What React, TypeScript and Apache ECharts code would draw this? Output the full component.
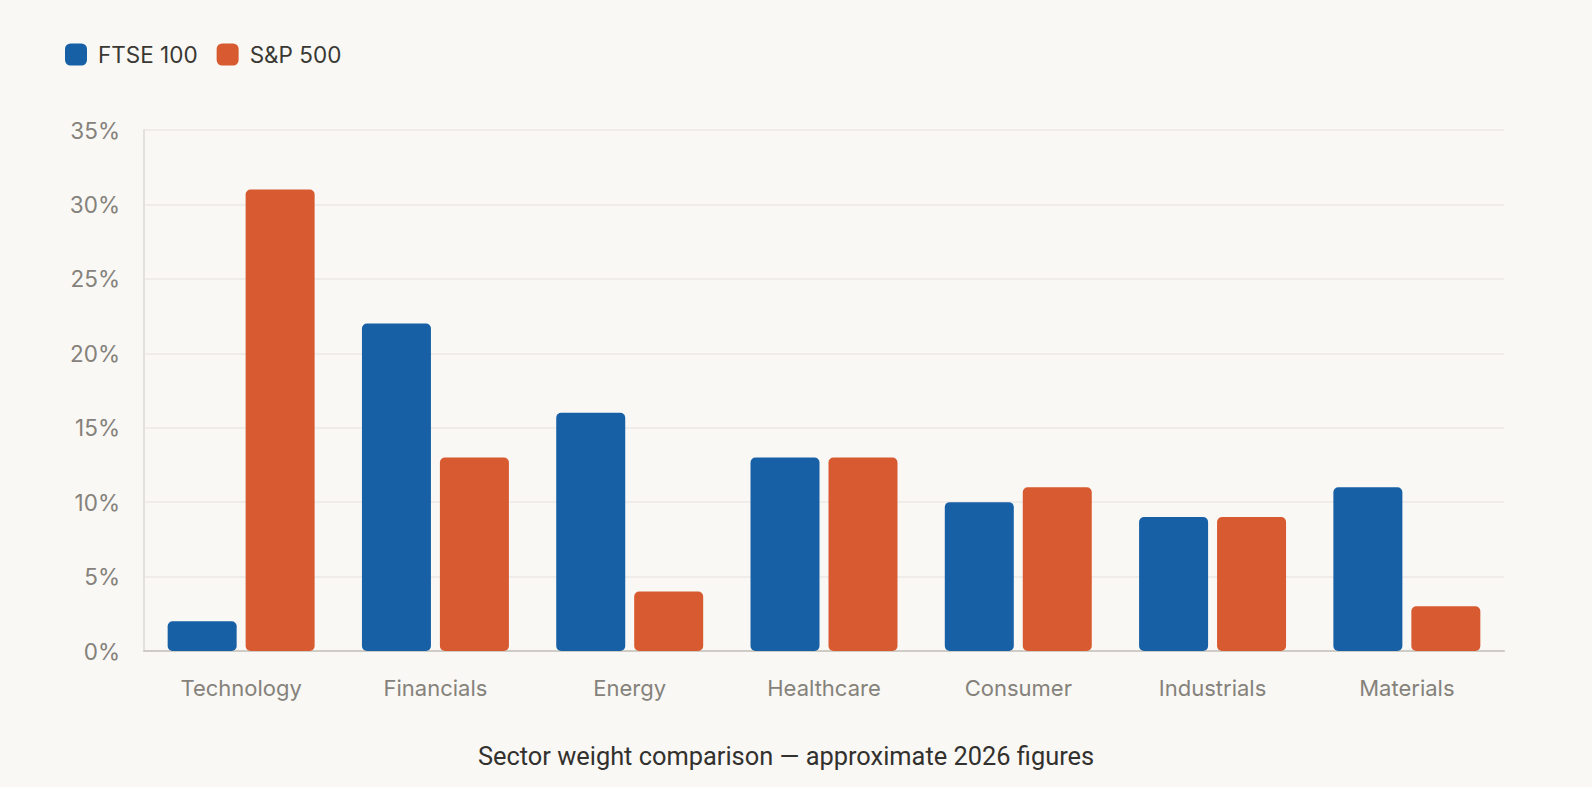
import React, { useEffect, useRef } from "react";
import * as echarts from "echarts";

const categories = ["Technology", "Financials", "Energy", "Healthcare", "Consumer", "Industrials", "Materials"];
const ftse100 = [2, 22, 16, 13, 10, 9, 11];
const sp500 = [31, 13, 4, 13, 11, 9, 3];
const seriesNames = ["FTSE 100", "S&P 500"];
const caption = "Sector weight comparison — approximate 2026 figures";

const FONT = "Inter, 'Noto Sans', sans-serif";

export default function App() {
  const ref = useRef<HTMLDivElement>(null);
  useEffect(() => {
    document.body.style.margin = "0";
    const chart = echarts.init(ref.current!, null, { renderer: "svg" });
    chart.setOption({
      animation: false,
      backgroundColor: "#f9f8f5",
      textStyle: { fontFamily: FONT },
      legend: {
        left: 65,
        top: 43,
        padding: 0,
        itemWidth: 22,
        itemHeight: 22,
        itemGap: 19,
        icon: "roundRect",
        textStyle: { fontSize: 22.5, color: "#3a3833", fontFamily: FONT, padding: [0, 0, 0, 6] },
        data: seriesNames,
      },
      grid: { left: 144, right: 88, top: 130, bottom: 136 },
      xAxis: {
        type: "category",
        data: categories,
        axisLine: { show: true, lineStyle: { color: "#cfccc5", width: 2 } },
        axisTick: { show: false },
        axisLabel: { color: "#85827b", fontSize: 22, margin: 26, fontFamily: FONT },
      },
      yAxis: {
        type: "value",
        min: 0,
        max: 35,
        interval: 5,
        axisLine: { show: true, lineStyle: { color: "#e3e1dc", width: 2 } },
        axisTick: { show: false },
        splitLine: { lineStyle: { color: "#ebe9e4", width: 1.5 } },
        axisLabel: { color: "#85827b", fontSize: 22.5, margin: 24, formatter: "{value}%", fontFamily: FONT },
      },
      series: [
        {
          name: seriesNames[0],
          type: "bar",
          data: ftse100,
          barWidth: 69,
          barGap: "13%",
          itemStyle: { color: "#1760a5", borderRadius: 5 },
        },
        {
          name: seriesNames[1],
          type: "bar",
          data: sp500,
          barWidth: 69,
          barGap: "13%",
          itemStyle: { color: "#d85a31", borderRadius: 5 },
        },
      ],
      graphic: [
        {
          type: "text",
          x: 786,
          y: 756,
          style: {
            text: caption,
            fill: "#33312d",
            font: `25.4px Roboto, ${FONT}`,
            textAlign: "center",
            textVerticalAlign: "middle",
          },
        },
      ],
    });
    return () => chart.dispose();
  }, []);
  return <div ref={ref} style={{ width: 1592, height: 787 }} />;
}
